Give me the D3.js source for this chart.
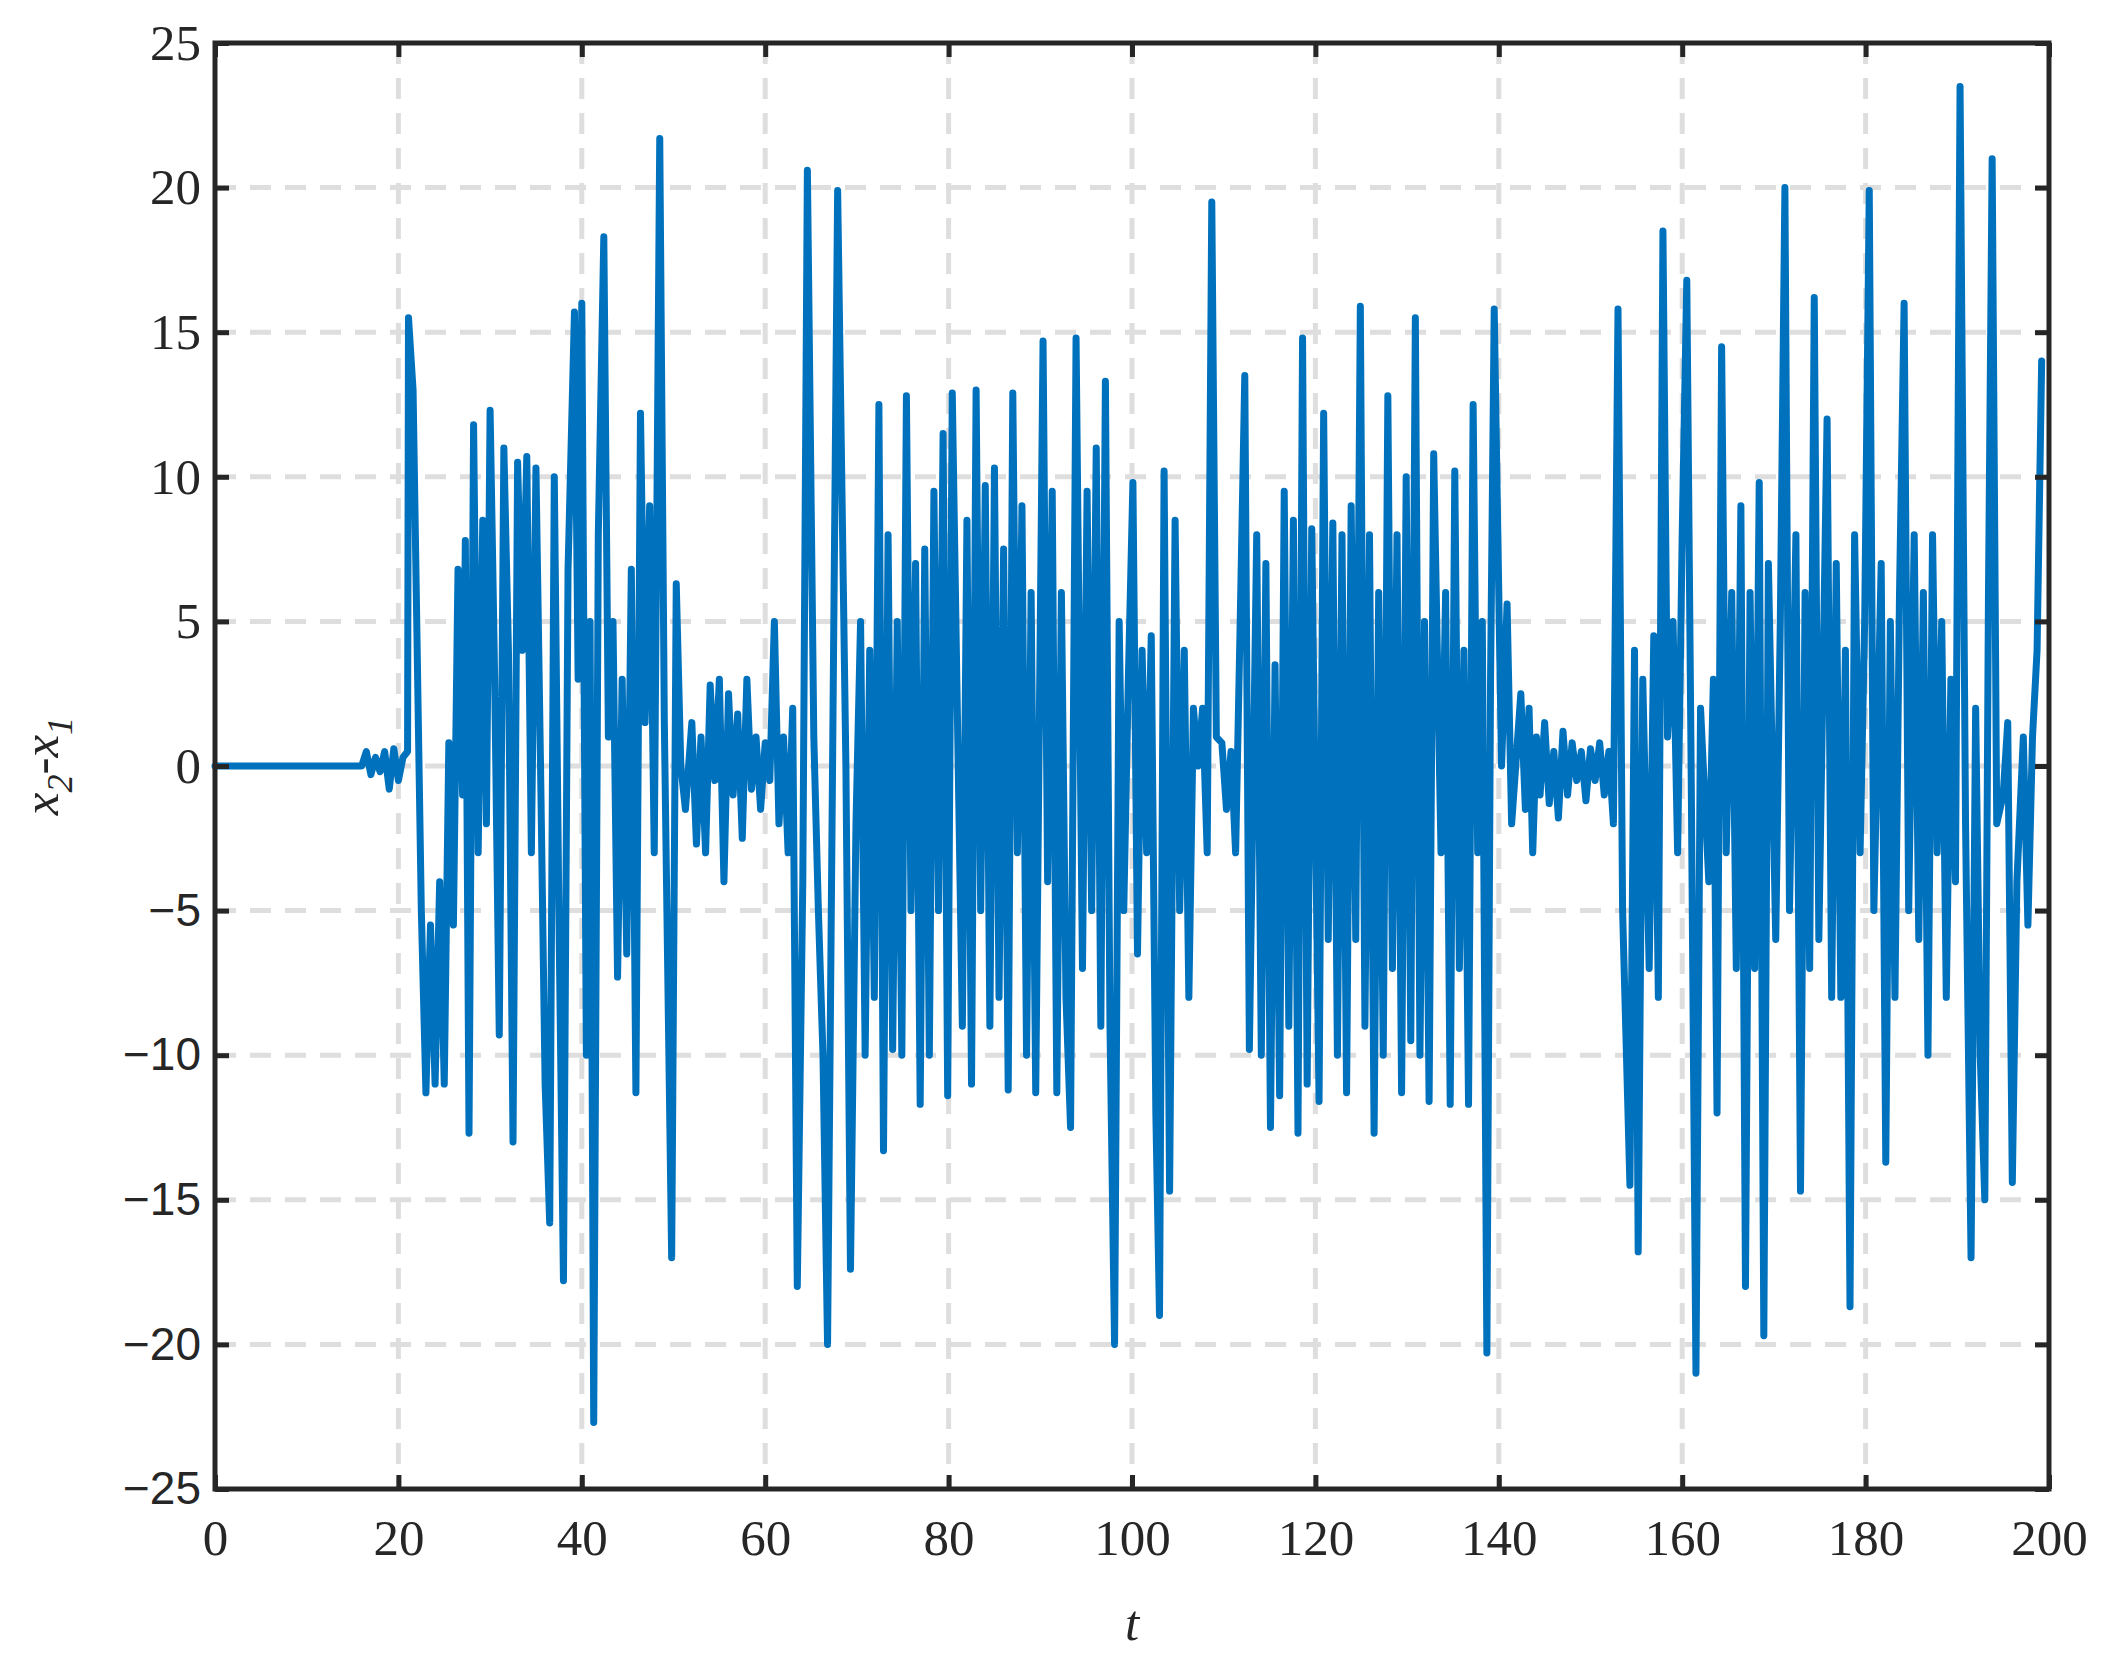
<!DOCTYPE html>
<html><head><meta charset="utf-8">
<script src="https://cdn.jsdelivr.net/npm/d3@7"></script>
<style>body{margin:0;background:#fff}</style>
</head><body>
<svg id="c" width="2117" height="1661"></svg>
<script>
// turning points: [t, x2-x1]
const times = [0,16,16.5,17,17.5,18,18.5,19,19.5,20,20.5,21,21.1,21.6,22.5,23,23.5,24,24.5,25,25.5,26,26.5,27,27.3,27.7,28.2,28.7,29.2,29.6,30,30.5,31,31.5,32,32.5,33,33.5,34,34.5,35,35.5,36,36.5,37,37.5,38,38.5,39.2,39.6,40,40.5,40.9,41.3,41.8,42.4,42.9,43.4,43.9,44.4,44.9,45.4,45.9,46.4,46.9,47.4,47.9,48.5,49,49.8,50.3,50.8,51.3,52,52.5,53,53.5,54,54.5,55,55.5,56,56.5,57,57.5,58,58.5,59,59.5,60,60.5,61,61.5,62,62.5,63,63.5,64.1,64.6,65.3,65.8,66.3,66.8,67.4,67.9,68.8,69.3,69.9,70.4,70.9,71.4,71.9,72.4,72.9,73.4,73.9,74.4,74.9,75.4,75.9,76.4,76.9,77.4,77.9,78.4,78.9,79.4,79.9,80.4,81.5,82,82.5,83,83.5,84,84.5,85,85.5,86,86.5,87,87.5,88,88.5,89,89.5,90.3,90.8,91.3,91.8,92.3,92.8,93.3,93.9,94.6,95.1,95.6,96.1,96.6,97.1,97.6,98.1,98.6,99.1,99.6,100.1,100.6,101.1,101.6,102.1,102.6,103,103.5,104.1,104.7,105.2,105.7,106.2,106.7,107.2,107.7,108.2,108.7,109.2,109.8,110.3,110.8,111.3,111.8,112.3,112.8,113.6,114.1,114.6,115.1,115.6,116.1,116.6,117.1,117.6,118.1,118.6,119.1,119.6,120.4,120.9,121.4,121.9,122.4,122.9,123.4,123.9,124.4,124.9,125.4,125.9,126.4,126.9,127.4,127.9,128.4,128.9,129.4,129.9,130.4,130.9,131.4,131.9,132.4,132.9,133.7,134.2,134.7,135.2,135.7,136.2,136.7,137.2,137.7,138.2,138.7,139.1,139.5,140.3,140.9,141.4,142.4,142.9,143.3,143.7,144.1,144.5,145,145.5,146,146.5,147,147.5,148,148.5,149,149.5,150,150.5,151,151.5,152,152.5,153,153.5,154.3,154.8,155.2,155.7,156.4,156.9,157.4,157.9,158.4,159,159.5,160,160.5,161,161.5,162,162.9,163.4,163.8,164.3,164.8,165.4,165.9,166.4,166.9,167.4,167.9,168.4,168.9,169.4,170.2,170.7,171.2,171.7,172.4,172.9,173.4,173.9,174.4,174.9,175.8,176.3,176.8,177.3,177.8,178.3,178.8,179.4,179.9,180.4,180.9,181.7,182.2,182.7,183.2,183.7,184.2,184.7,185.3,185.8,186.3,186.8,187.3,187.8,188.3,188.8,189.3,189.8,190.3,190.9,191.5,192,192.5,193,193.4,193.8,194.3,195,195.5,196,196.5,197.2,197.7,198.2,198.7,199.2,199.6,200];
const values = [0,0,0.5,-0.3,0.3,-0.2,0.5,-0.8,0.6,-0.5,0.3,0.5,15.5,13,-5,-11.3,-5.5,-11,-4,-11,0.8,-5.5,6.8,-1,7.8,-12.7,11.8,-3,8.5,-2,12.3,3,-9.3,11,4,-13,10.5,4,10.7,-3,10.3,0,-11,-15.8,10,-5,-17.8,6.8,15.7,3,16,-10,5,-22.7,8,18.3,1,5,-7.3,3,-6.5,6.8,-11.3,12.2,1.5,9,-3,21.7,1.5,-17,6.3,0,-1.5,1.5,-2.7,1,-3,2.8,-0.5,3,-4,2.5,-1,1.8,-2.5,3,-0.8,1,-1.5,0.8,-0.5,5,-2,1,-3,2,-18,-4,20.6,1,-5,-10,-20,2,19.9,0,-17.4,-2,5,-10,4,-8,12.5,-13.3,8,-9.8,5,-10,12.8,-5,7,-11.7,7.5,-10,9.5,-5,11.5,-11.4,12.9,-9,8.5,-11,13,-5,9.7,-9,10.3,-8,7.5,-11.2,12.9,-3,9,-10,6,-11.3,14.7,-4,9.5,-11.3,6,-8,-12.5,14.8,-7,9.5,-5,11,-9,13.3,-9,-20,5,-5,3,9.8,-6.5,4,-3,4.5,-12,-19,10.2,-14.7,8.5,-5,4,-8,2,0,2,-3,19.5,1,0.8,-1.5,0.5,-3,5,13.5,-9.8,8,-10,7,-12.5,3.5,-11.4,9.5,-9,8.5,-12.7,14.8,-11,8.2,-11.6,12.2,-6,8.4,-10,8,-11.3,9,-6,15.9,-9,8,-12.7,6,-10,12.8,-7,8,-11.3,10,-9.5,15.5,-10,5,-11.6,10.8,-3,6,-11.7,10.2,-7,4,-11.7,12.5,-3,5,-20.3,3,15.8,0,5.6,-2,2.5,-1.5,2,-3,1,-1,1.5,-1.3,0.5,-1.8,1.2,-1,0.8,-0.5,0.5,-1.2,0.6,-0.5,0.8,-1,0.5,-2,15.8,-5,-14.5,4,-16.8,3,-7,4.5,-8,18.5,1,5,-3,8,16.8,-1,-21,2,-4,3,-12,14.5,-3,6,-7,9,-18,6,-7,9.8,-19.7,7,-6,5,20,-5,8,-14.7,6,-7,16.2,-6,12,-8,7,-8,4,-18.7,8,-3,5,19.9,-5,7,-13.7,5,-8,6,16,-5,8,-6,6,-10,8,-3,5,-8,3,-4,23.5,-2,-17,2,-10,-15,6,21,-2,-1,1.5,-14.4,-4,1,-5.5,1,4,14];
const xTicks = [0,20,40,60,80,100,120,140,160,180,200];
const yTicks = [-25,-20,-15,-10,-5,0,5,10,15,20,25];

const data = times.map((t, i) => ({t: t, v: values[i]}));
const L = 215, R = 2049, T = 43, B = 1489;
const svg = d3.select("#c");
const x = d3.scaleLinear().domain([0, 200]).range([L, R]);
const y = d3.scaleLinear().domain([-25, 25]).range([B, T]);
const ink = "#262626";

// grid
svg.append("g").selectAll("line").data(xTicks.slice(1, -1)).join("line")
    .attr("x1", d => x(d)).attr("x2", d => x(d)).attr("y1", T).attr("y2", B)
    .attr("stroke", "#dedede").attr("stroke-width", 5).attr("stroke-dasharray", "21,14");
svg.append("g").selectAll("line").data(yTicks.slice(1, -1)).join("line")
    .attr("y1", d => y(d)).attr("y2", d => y(d)).attr("x1", L).attr("x2", R)
    .attr("stroke", "#dedede").attr("stroke-width", 5).attr("stroke-dasharray", "21,14");

// series
svg.append("path").datum(data)
    .attr("d", d3.line().x(d => x(d.t)).y(d => y(d.v)))
    .attr("fill", "none").attr("stroke", "#0072bd").attr("stroke-width", 7)
    .attr("stroke-linejoin", "round").attr("stroke-linecap", "round");

// axes with inward ticks
const xa = svg.append("g").attr("transform", `translate(0,${B})`)
    .call(d3.axisBottom(x).tickValues(xTicks).tickSizeInner(-14).tickSizeOuter(0).tickPadding(30));
const ya = svg.append("g").attr("transform", `translate(${L},0)`)
    .call(d3.axisLeft(y).tickValues(yTicks).tickSizeInner(-14).tickSizeOuter(0).tickPadding(14)
        .tickFormat(d => d < 0 ? "\u2212" + Math.abs(d) : d));
// top/right ticks
svg.append("g").attr("transform", `translate(0,${T})`)
    .call(d3.axisTop(x).tickValues(xTicks).tickSizeInner(-14).tickSizeOuter(0).tickFormat(""));
svg.append("g").attr("transform", `translate(${R},0)`)
    .call(d3.axisRight(y).tickValues(yTicks).tickSizeInner(-14).tickSizeOuter(0).tickFormat(""));
svg.selectAll(".domain").remove();
svg.selectAll(".tick line").attr("stroke", ink).attr("stroke-width", 5);
svg.selectAll(".tick text").attr("fill", ink).attr("font-family", "Liberation Serif").attr("font-size", 51);
ya.selectAll(".tick text").filter(d => d < 0).attr("font-family", "Liberation Sans").attr("font-size", 46);

svg.append("rect").attr("x", L).attr("y", T).attr("width", R - L).attr("height", B - T)
    .attr("fill", "none").attr("stroke", ink).attr("stroke-width", 5);

// labels
svg.append("text").attr("x", (L + R) / 2).attr("y", 1640).attr("text-anchor", "middle")
    .attr("font-family", "Liberation Serif").attr("font-style", "italic").attr("font-size", 51)
    .attr("fill", ink).text("t");
const yl = svg.append("text").attr("transform", `translate(58,${y(0)}) rotate(-90)`)
    .attr("text-anchor", "middle").attr("font-family", "Liberation Serif").attr("font-style", "italic")
    .attr("font-size", 51).attr("fill", ink);
yl.append("tspan").text("x");
yl.append("tspan").attr("dy", 14).attr("font-size", 36).text("2");
yl.append("tspan").attr("dy", -14).text("-x");
yl.append("tspan").attr("dy", 14).attr("font-size", 36).text("1");
</script>
</body></html>
